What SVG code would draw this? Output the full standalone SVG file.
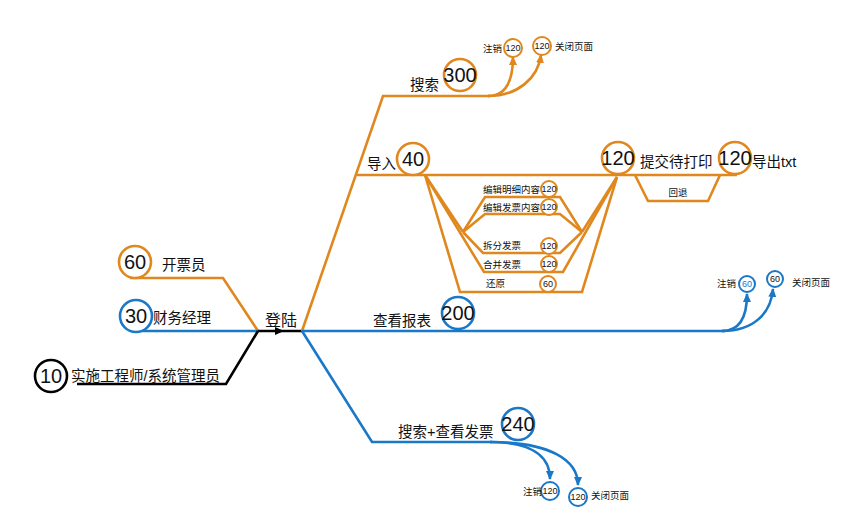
<svg xmlns="http://www.w3.org/2000/svg" width="864" height="528" viewBox="0 0 864 528">
<defs>
<style>
text{font-family:"Liberation Sans","Noto Sans CJK SC",sans-serif;fill:#111}
.o{stroke:#E0881E;fill:none;stroke-width:2.6}
.b{stroke:#1A78C8;fill:none;stroke-width:2.6}
.k{stroke:#000;fill:none;stroke-width:2.6}
.co{stroke:#E0881E;stroke-width:2.6;fill:#fff}
.cb{stroke:#1A78C8;stroke-width:2.6;fill:#fff}
.ck{stroke:#000;stroke-width:2.6;fill:#fff}
.so{stroke:#E0881E;stroke-width:2;fill:#fff}
.sb{stroke:#1A78C8;stroke-width:2;fill:#fff}
.n{font-size:20px;text-anchor:middle}
.sn{font-size:9px;text-anchor:middle}
.l{font-size:14.5px}
.s{font-size:9.5px}
</style>
<marker id="ao" markerUnits="userSpaceOnUse" markerWidth="10" markerHeight="10" refX="8" refY="5" orient="auto"><path d="M0,1 L9,5 L0,9 Z" fill="#E0881E"/></marker>
<marker id="ab" markerUnits="userSpaceOnUse" markerWidth="10" markerHeight="10" refX="8" refY="5" orient="auto"><path d="M0,1 L9,5 L0,9 Z" fill="#1A78C8"/></marker>
<marker id="ak" markerUnits="userSpaceOnUse" markerWidth="10" markerHeight="10" refX="5" refY="5" orient="auto"><path d="M0,1 L9,5 L0,9 Z" fill="#000"/></marker>
</defs>
<g id="connectors">
<polyline class="o" points="130,278 223,278 258,331"/>
<line class="b" x1="142" y1="331" x2="258" y2="331"/>
<polyline class="k" points="77,384 226,384 258,331"/>
<polyline class="k" points="258,331 280,331 302,331" marker-mid="url(#ak)"/>
<polyline class="o" points="302,331 383,96 490,96"/>
<path class="o" d="M488,96 C505,96 513,82 513,57" marker-end="url(#ao)"/>
<path class="o" d="M488,96 C518,96 538,78 541,55" marker-end="url(#ao)"/>
<line class="o" x1="357" y1="175" x2="737" y2="175"/>
<polyline class="o" points="635,175 648,201 708,201 720,175"/>
<polyline class="o" points="425,175 460,292 582,292 617,177"/>
<polyline class="o" points="425,175 463,232"/>
<polyline class="o" points="425,175 484,272 563,272 617,177"/>
<polyline class="o" points="617,177 582,232"/>
<polyline class="o" points="463,232 485,197 560,197 582,232"/>
<polyline class="o" points="463,232 485,214 560,214 582,232"/>
<polyline class="o" points="463,232 483,253 560,253 582,232"/>
<line class="b" x1="302" y1="331" x2="725" y2="331"/>
<path class="b" d="M722,331 C740,331 747,316 747,294" marker-end="url(#ab)"/>
<path class="b" d="M722,331 C755,331 771,312 773,289" marker-end="url(#ab)"/>
<polyline class="b" points="302,331 372,442 492,442"/>
<path class="b" d="M490,442 C530,442 550,455 550,479" marker-end="url(#ab)"/>
<path class="b" d="M490,442 C550,442 578,460 578,485" marker-end="url(#ab)"/>
</g>
<g id="n10"><circle class="ck" cx="51" cy="376" r="16"/><text class="n" x="51" y="383">10</text><text class="l" x="71" y="381">实施工程师/系统管理员</text></g>
<g id="n30"><circle class="cb" cx="136" cy="316" r="16"/><text class="n" x="136" y="323">30</text><text class="l" x="153" y="323">财务经理</text></g>
<g id="n60"><circle class="co" cx="135" cy="262" r="16"/><text class="n" x="135" y="269">60</text><text class="l" x="162" y="270">开票员</text></g>
<g id="login"><text x="265" y="326" style="font-size:16px">登陆</text></g>
<g id="search"><circle class="co" cx="460" cy="75" r="16"/><text class="n" x="460" y="82">300</text><text class="l" x="410" y="90">搜索</text></g>
<g id="s-logout"><circle class="so" cx="513" cy="48" r="9"/><text class="sn" x="513" y="51">120</text><text class="s" x="483" y="52">注销</text></g>
<g id="s-close"><circle class="so" cx="542" cy="46" r="9"/><text class="sn" x="542" y="49">120</text><text class="s" x="555" y="50">关闭页面</text></g>
<g id="import"><circle class="co" cx="413" cy="159" r="16"/><text class="n" x="413" y="166">40</text><text class="l" x="367" y="169">导入</text></g>
<g id="submit"><circle class="co" cx="618" cy="158" r="16"/><text class="n" x="618" y="165">120</text><text class="l" x="640" y="167">提交待打印</text></g>
<g id="export"><circle class="co" cx="735" cy="158" r="16"/><text class="n" x="735" y="165">120</text><text class="l" x="752" y="167">导出txt</text></g>
<g id="back"><text class="s" x="678" y="196" text-anchor="middle">回退</text></g>
<g id="edit-detail"><circle class="so" cx="549" cy="189" r="8"/><text class="sn" x="549" y="192">120</text><text class="s" x="483" y="193">编辑明细内容</text></g>
<g id="edit-invoice"><circle class="so" cx="549" cy="207" r="8"/><text class="sn" x="549" y="210">120</text><text class="s" x="483" y="211">编辑发票内容</text></g>
<g id="split"><circle class="so" cx="549" cy="246" r="8"/><text class="sn" x="549" y="249">120</text><text class="s" x="483" y="249">拆分发票</text></g>
<g id="merge"><circle class="so" cx="549" cy="264" r="8"/><text class="sn" x="549" y="267">120</text><text class="s" x="483" y="268">合并发票</text></g>
<g id="restore"><circle class="so" cx="548" cy="284" r="8"/><text class="sn" x="548" y="287">60</text><text class="s" x="486" y="287">还原</text></g>
<g id="report"><circle class="cb" cx="458" cy="313" r="16"/><text class="n" x="458" y="320">200</text><text class="l" x="373" y="326">查看报表</text></g>
<g id="r-logout"><circle class="sb" cx="747" cy="284" r="8"/><text class="sn" x="747" y="287" style="fill:#1A78C8">60</text><text class="s" x="717" y="287">注销</text></g>
<g id="r-close"><circle class="sb" cx="775" cy="279" r="8"/><text class="sn" x="775" y="282">60</text><text class="s" x="792" y="286">关闭页面</text></g>
<g id="search-invoice"><circle class="cb" cx="518" cy="424" r="16"/><text class="n" x="518" y="431">240</text><text class="l" x="398" y="437">搜索+查看发票</text></g>
<g id="b-logout"><circle class="sb" cx="550" cy="491" r="9"/><text class="sn" x="550" y="494">120</text><text class="s" x="523" y="495">注销</text></g>
<g id="b-close"><circle class="sb" cx="578" cy="497" r="9"/><text class="sn" x="578" y="500">120</text><text class="s" x="591" y="499">关闭页面</text></g>
</svg>
